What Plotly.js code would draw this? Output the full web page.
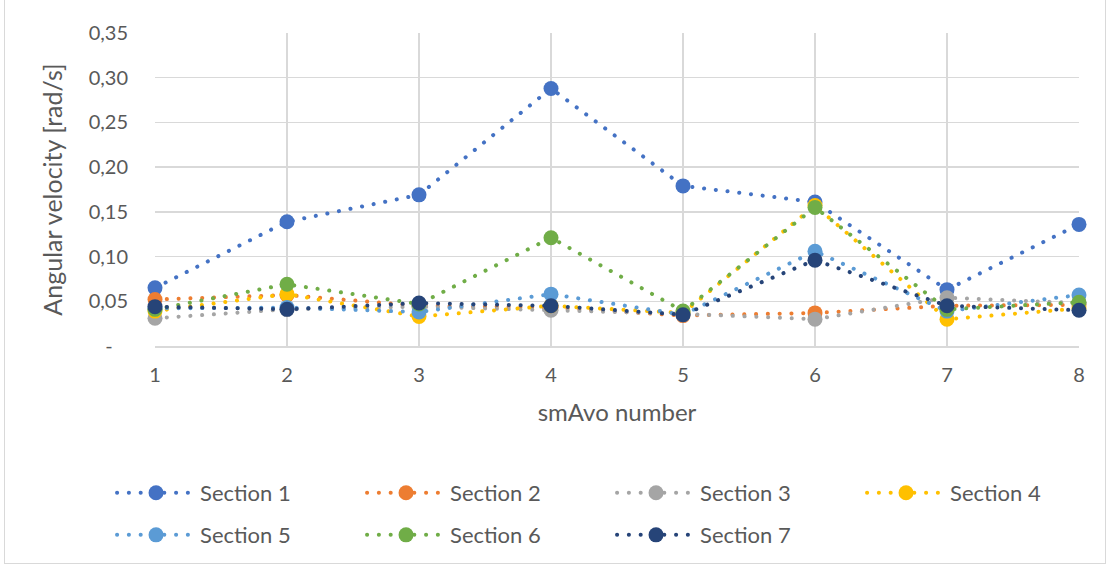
<!DOCTYPE html>
<html>
<head>
<meta charset="utf-8">
<script src="https://cdn.plot.ly/plotly-3.0.1.min.js"></script>
<style>
  html, body { margin: 0; padding: 0; background: #ffffff; }
  #frame { position: absolute; left: 4px; top: 0px; width: 1102px; height: 564px; border: 1px solid #d9d9d9; border-top: none; box-sizing: border-box; }
  #chart { position: absolute; left: 0; top: 0; width: 1108px; height: 566px; }
  /* round dots for the dotted series lines */
  #chart .js-line { stroke-linecap: round; }
</style>
</head>
<body>
<div id="frame"></div>
<div id="chart"></div>
<script>
// smAvo numbers along the x axis
const smAvo = [1, 2, 3, 4, 5, 6, 7, 8];

// Angular velocity per section [rad/s]
const section1 = [0.065, 0.139, 0.169, 0.288, 0.179, 0.161, 0.063, 0.136];
const section2 = [0.052, 0.057, 0.045, 0.043, 0.034, 0.037, 0.045, 0.046];
const section3 = [0.031, 0.041, 0.044, 0.040, 0.036, 0.030, 0.054, 0.048];
const section4 = [0.039, 0.058, 0.033, 0.045, 0.037, 0.157, 0.030, 0.042];
const section5 = [0.042, 0.043, 0.038, 0.058, 0.035, 0.106, 0.039, 0.057];
const section6 = [0.041, 0.069, 0.047, 0.121, 0.039, 0.155, 0.041, 0.049];
const section7 = [0.044, 0.041, 0.048, 0.045, 0.035, 0.096, 0.045, 0.040];

const seriesNames = ['Section 1', 'Section 2', 'Section 3', 'Section 4', 'Section 5', 'Section 6', 'Section 7'];
const seriesValues = [section1, section2, section3, section4, section5, section6, section7];
const seriesColors = ['#4472C4', '#ED7D31', '#A5A5A5', '#FFC000', '#5B9BD5', '#70AD47', '#264478'];

// y axis ticks, zero shown as a dash
const yTickVals = [0, 0.05, 0.10, 0.15, 0.20, 0.25, 0.30, 0.35];
const yTickText = ['-\u00a0\u00a0\u00a0', '0,05', '0,10', '0,15', '0,20', '0,25', '0,30', '0,35'];

const traces = seriesNames.map((name, i) => ({
  type: 'scatter',
  mode: 'lines+markers',
  name: name,
  legend: i < 4 ? 'legend' : 'legend2',
  legendwidth: (i === 3 || i === 6) ? 100 : 157,
  x: smAvo,
  y: seriesValues[i],
  line: { color: seriesColors[i], width: 4, dash: '0.1px,11.7px' },
  marker: { color: seriesColors[i], size: 15, symbol: 'circle' },
  cliponaxis: false
}));

const font = 'Lato, "Open Sans", "Liberation Sans", sans-serif';

const legendBase = {
  orientation: 'h',
  xanchor: 'left',
  yanchor: 'top',
  entrywidth: 157,
  entrywidthmode: 'pixels',
  itemwidth: 78,
  font: { size: 22, color: '#595959', family: font },
  bgcolor: 'rgba(0,0,0,0)'
};

const layout = {
  width: 1108,
  height: 566,
  margin: { l: 155, r: 29, t: 33, b: 219 },
  paper_bgcolor: 'rgba(0,0,0,0)',
  plot_bgcolor: '#ffffff',
  font: { family: font, color: '#595959', size: 20 },
  showlegend: true,
  hovermode: false,
  xaxis: {
    range: [1, 8],
    tickvals: smAvo,
    ticktext: smAvo.map(String),
    showgrid: true,
    gridcolor: '#d9d9d9',
    gridwidth: 1.5,
    zeroline: false,
    showline: true,
    linecolor: '#d9d9d9',
    linewidth: 1.5,
    ticks: '',
    ticklabelstandoff: 10,
    tickfont: { size: 20, color: '#595959', family: font },
    title: { text: 'smAvo number', font: { size: 24, color: '#595959', family: font }, standoff: 19 }
  },
  yaxis: {
    range: [0, 0.35],
    tickvals: yTickVals,
    ticktext: yTickText,
    showgrid: true,
    gridcolor: '#d9d9d9',
    gridwidth: 1.5,
    zeroline: false,
    showline: false,
    ticks: '',
    ticklabelstandoff: 26,
    tickfont: { size: 20, color: '#595959', family: font },
    title: { text: 'Angular velocity [rad/s]', font: { size: 25, color: '#595959', family: font }, standoff: 18 }
  },
  legend: Object.assign({}, legendBase, { x: -0.0465, y: -0.398 }),
  legend2: Object.assign({}, legendBase, { x: -0.0465, y: -0.532 })
};

Plotly.newPlot('chart', traces, layout, { displayModeBar: false, staticPlot: true }).then(gd => {
  // lengthen each legend swatch line so the dots run on both sides of the marker
  gd.querySelectorAll('.legendpoints').forEach(pts => {
    const item = pts.parentNode;
    const marker = pts.querySelector('path.scatterpts');
    const line = item.querySelector('.legendlines path');
    if (!marker || !line) return;
    const m = /translate\(([-\d.]+)/.exec(marker.getAttribute('transform') || '');
    const cx = m ? parseFloat(m[1]) : 20;
    line.setAttribute('d', 'M' + (cx - 34) + ',0h68');
  });
});
</script>
</body>
</html>
